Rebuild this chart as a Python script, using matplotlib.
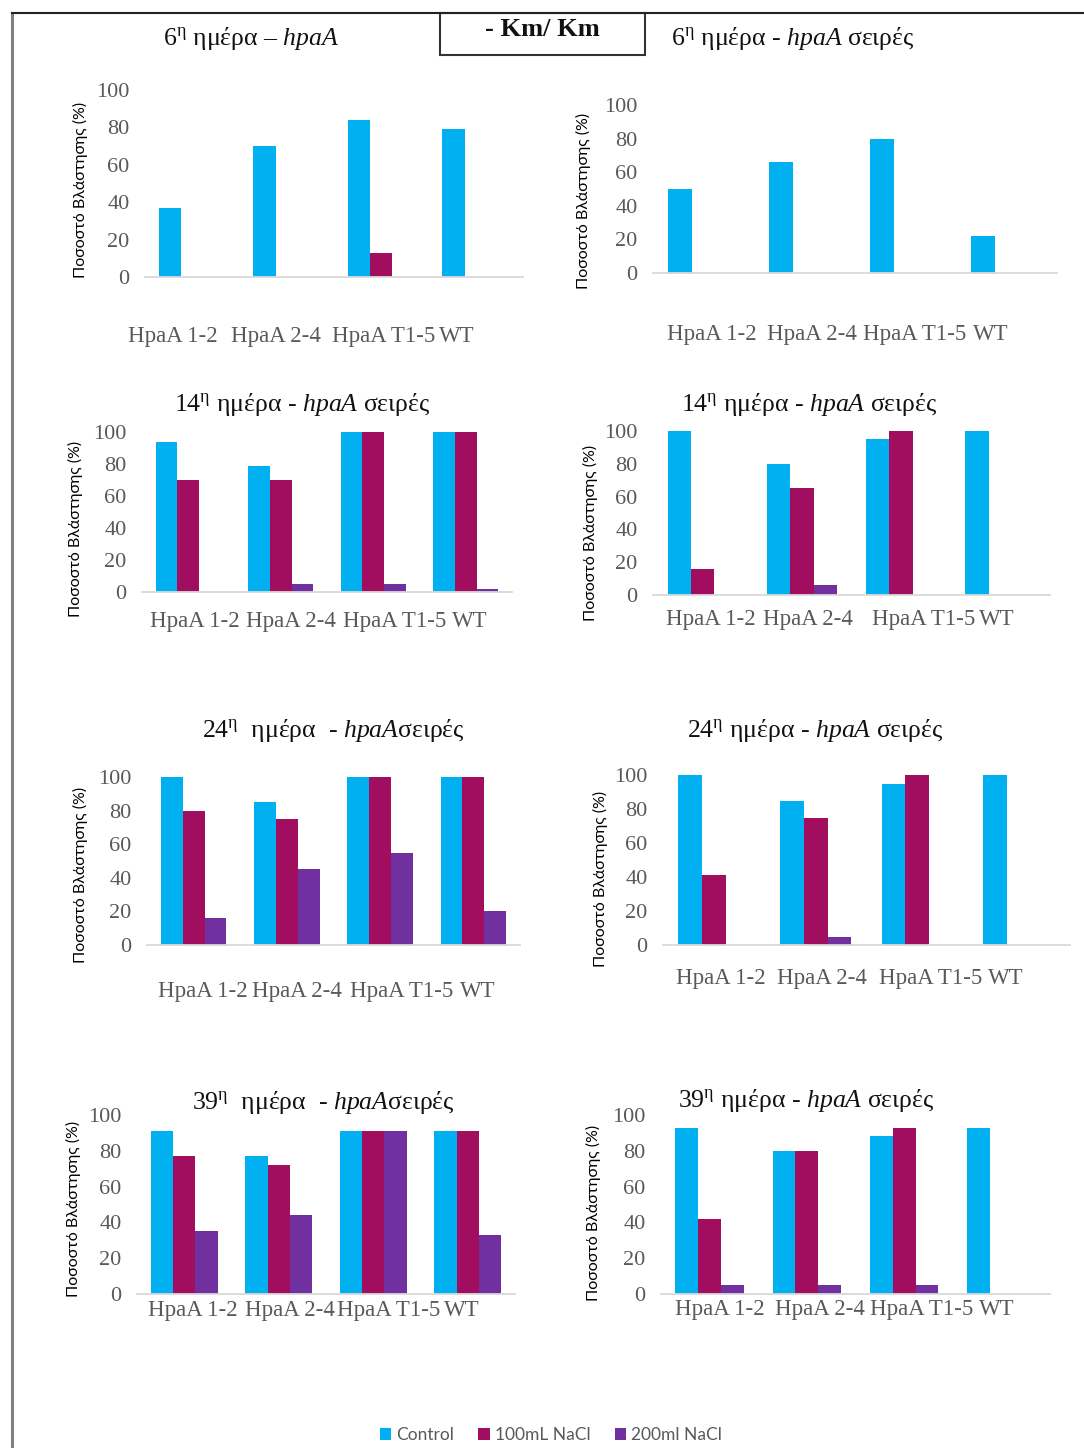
import matplotlib
matplotlib.use("Agg")
import matplotlib.pyplot as plt
from matplotlib.patches import Patch, Rectangle
from matplotlib.lines import Line2D
import numpy as np

# ---------------- data ----------------
categories = ["HpaA 1-2", "HpaA 2-4", "HpaA T1-5", "WT"]
series_names = ["Control", "100mL NaCl", "200ml NaCl"]
series_colors = ["#00B0F0", "#A10D5F", "#7030A0"]

d6_left_control = [37, 70, 84, 79]
d6_left_nacl100 = [0, 0, 13, 0]
d6_left_nacl200 = [0, 0, 0, 0]

d6_right_control = [50, 66, 80, 22]
d6_right_nacl100 = [0, 0, 0, 0]
d6_right_nacl200 = [0, 0, 0, 0]

d14_left_control = [94, 79, 100, 100]
d14_left_nacl100 = [70, 70, 100, 100]
d14_left_nacl200 = [0, 5, 5, 2]

d14_right_control = [100, 80, 95, 100]
d14_right_nacl100 = [16, 65, 100, 0]
d14_right_nacl200 = [0, 6, 0, 0]

d24_left_control = [100, 85, 100, 100]
d24_left_nacl100 = [80, 75, 100, 100]
d24_left_nacl200 = [16, 45, 55, 20]

d24_right_control = [100, 85, 95, 100]
d24_right_nacl100 = [41, 75, 100, 0]
d24_right_nacl200 = [0, 5, 0, 0]

d39_left_control = [91, 77, 91, 91]
d39_left_nacl100 = [77, 72, 91, 91]
d39_left_nacl200 = [35, 44, 91, 33]

d39_right_control = [93, 80, 88, 93]
d39_right_nacl100 = [42, 80, 93, 0]
d39_right_nacl200 = [5, 5, 5, 0]

titles = [
    "6$^{\\mathrm{η}}$ ημέρα – $\\mathit{hpaA}$",
    "6$^{\\mathrm{η}}$ ημέρα - $\\mathit{hpaA}$ σειρές",
    "14$^{\\mathrm{η}}$ ημέρα - $\\mathit{hpaA}$ σειρές",
    "14$^{\\mathrm{η}}$ ημέρα - $\\mathit{hpaA}$ σειρές",
    "24$^{\\mathrm{η}}$  ημέρα  - $\\mathit{hpaA}$σειρές",
    "24$^{\\mathrm{η}}$ ημέρα - $\\mathit{hpaA}$ σειρές",
    "39$^{\\mathrm{η}}$  ημέρα  - $\\mathit{hpaA}$σειρές",
    "39$^{\\mathrm{η}}$ ημέρα - $\\mathit{hpaA}$ σειρές",
]
y_label = "Ποσοστό Βλάστησης (%)"
y_ticks = [0, 20, 40, 60, 80, 100]
header_text = "- Km/ Km"

panels_data = [
    (d6_left_control, d6_left_nacl100, d6_left_nacl200),
    (d6_right_control, d6_right_nacl100, d6_right_nacl200),
    (d14_left_control, d14_left_nacl100, d14_left_nacl200),
    (d14_right_control, d14_right_nacl100, d14_right_nacl200),
    (d24_left_control, d24_left_nacl100, d24_left_nacl200),
    (d24_right_control, d24_right_nacl100, d24_right_nacl200),
    (d39_left_control, d39_left_nacl100, d39_left_nacl200),
    (d39_right_control, d39_right_nacl100, d39_right_nacl200),
]

# ---------------- layout (pixels) ----------------
W, H = 1084, 1448
# left, right, top, bottom, xlabel_y, title_x, title_y, ylabel_x, ylabel_y
layout = [
    (145, 523, 90, 277, 338, 251, 38, 80, 190),
    (653, 1057, 105, 273, 336, 793, 38, 583, 201),
    (142, 512, 432, 592, 623, 302, 405, 75, 529),
    (653, 1050, 431, 595, 621, 809, 404, 590, 533),
    (147, 520, 777, 945, 993, 333, 730, 80, 875),
    (663, 1070, 775, 945, 980, 815, 730, 600, 879),
    (137, 515, 1115, 1294, 1312, 323, 1102, 73, 1209),
    (661, 1050, 1115, 1294, 1311, 806, 1100, 593, 1213),
]
# horizontal nudges (px) of the category labels in each panel
label_shift = [
    (-19, -11, 2, -19),
    (8, 7, 9, -16),
    (7, 10, 21, 4),
    (8, 6, 23, -4),
    (9, 10, 21, 4),
    (7, 6, 13, -13),
    (9, 11, 15, -6),
    (10, 13, 17, -5),
]

plt.rcParams["mathtext.fontset"] = "custom"
plt.rcParams["mathtext.rm"] = "Liberation Serif"
plt.rcParams["mathtext.it"] = "Liberation Serif:italic"
plt.rcParams["mathtext.bf"] = "Liberation Serif:bold"

SERIF = "Liberation Serif"
SANS = "Lato"
GRAY = "#595959"

fig = plt.figure(figsize=(W / 100, H / 100), dpi=100)
fig.patch.set_facecolor("white")


def fx(x):
    return x / W


def fy(y):
    return 1 - y / H


bar_w = 0.235
x = np.arange(len(categories))

for vals, lay, title, shifts in zip(panels_data, layout, titles, label_shift):
    left, right, top, bottom, xl_y, tx, ty, ylx, yly = lay
    ax = fig.add_axes([fx(left), fy(bottom), (right - left) / W, (bottom - top) / H])
    for j, (v, c) in enumerate(zip(vals, series_colors)):
        ax.bar(x + (j - 1) * bar_w, v, width=bar_w, color=c, linewidth=0)
    ax.set_xlim(-0.5, len(categories) - 0.5)
    ax.set_ylim(0, 100)
    ax.set_yticks(y_ticks)
    ax.set_yticklabels([str(t) for t in y_ticks], family=SERIF, fontsize=16, color=GRAY)
    # tick marks are hidden, so the label anchors can be nudged freely
    cat_px = (right - left) / len(categories)
    ax.set_xticks(x + np.array(shifts) / cat_px)
    ax.set_xticklabels(categories, family=SERIF, fontsize=16.5, color=GRAY)
    for s in ("left", "right", "top"):
        ax.spines[s].set_visible(False)
    ax.spines["bottom"].set_color("#d9d9d9")
    ax.spines["bottom"].set_linewidth(1.3)
    ax.tick_params(axis="y", length=0, pad=11)
    ax.tick_params(axis="x", length=0, pad=max((xl_y - 12 - bottom) * 0.72, 2))
    ax.set_facecolor("none")

    fig.text(fx(tx), fy(ty), title, family=SERIF, fontsize=18.5, color="#111111",
             ha="center", va="center")
    fig.text(fx(ylx), fy(yly), y_label, family=SANS, fontsize=11.5, color="black",
             rotation=90, ha="center", va="center")

# page frame and header box
fig.add_artist(Line2D([fx(12), fx(12)], [0, fy(13)], transform=fig.transFigure,
                      color="#7f7f7f", linewidth=2.2))
fig.add_artist(Line2D([fx(12), 1], [fy(13), fy(13)], transform=fig.transFigure,
                      color="#222222", linewidth=1.5))
fig.add_artist(Rectangle((fx(440), fy(55)), (645 - 440) / W, 42 / H,
                         transform=fig.transFigure, facecolor="white",
                         edgecolor="#333333", linewidth=1.5))
fig.text(fx(542), fy(30), header_text, family=SERIF, fontweight="bold",
         fontsize=19, color="#111111", ha="center", va="center")

# legend
handles = [Patch(facecolor=c, edgecolor="none") for c in series_colors]
fig.legend(handles, series_names, loc="center", bbox_to_anchor=(fx(551), fy(1435)),
           ncol=3, frameon=False, prop={"family": SANS, "size": 12.5},
           labelcolor=GRAY, handlelength=0.65, handleheight=0.65,
           handletextpad=0.3, columnspacing=1.4)

fig.savefig("out.png", dpi=100, facecolor="white")
